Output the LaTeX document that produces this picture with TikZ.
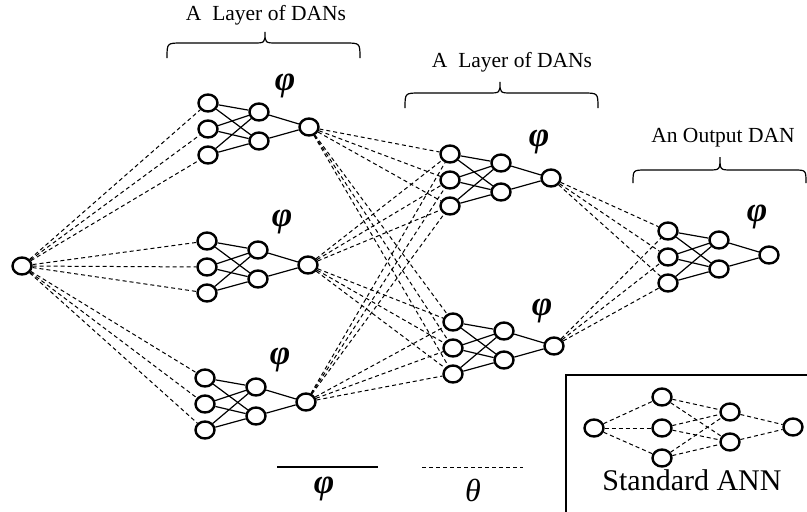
\documentclass[tikz,border=0pt]{standalone}
\usepackage{fontspec}
\setmainfont{Liberation Serif}
\usetikzlibrary{shapes.geometric}
\tikzset{
  neu/.style={ellipse, draw, line width=2.4pt, minimum width=19pt, minimum height=17pt, inner sep=0pt},
  syn/.style={line width=1.2pt},
  wt/.style={line width=1pt, dash pattern=on 4pt off 3pt},
  brc/.style={line width=1.2pt},
  lbl/.style={font=\fontsize{21.5}{24}\selectfont, inner sep=0pt, anchor=base},
  phil/.style={font=\fontsize{35}{38}\selectfont\bfseries\itshape, inner sep=0pt},
  thl/.style={font=\fontsize{32}{34}\selectfont\itshape, inner sep=0pt},
  bigl/.style={font=\fontsize{30}{32}\selectfont, inner sep=0pt, anchor=base},
}
\newcommand{\dannet}[3]{%
  \begin{scope}[shift={(#2,#3)}]
    \node[neu] (#1i1) at (0,-26) {};
    \node[neu] (#1i2) at (0,0) {};
    \node[neu] (#1i3) at (0,26) {};
    \node[neu] (#1h1) at (51,-17) {};
    \node[neu] (#1h2) at (51,12) {};
    \node[neu] (#1o) at (101,-2) {};
  \end{scope}
  \foreach \aa in {1,2,3}{\foreach \bb in {1,2}{\draw[syn] (#1i\aa) -- (#1h\bb);}}
  \draw[syn] (#1h1) -- (#1o);
  \draw[syn] (#1h2) -- (#1o);
}
\begin{document}
\begin{tikzpicture}[x=1pt,y=-1pt]
\useasboundingbox (0,0) rectangle (807,512);
% DANs
\dannet{a}{208}{129}
\dannet{b}{207}{267}
\dannet{c}{205}{404}
\dannet{d}{450}{180}
\dannet{e}{453}{348}
\dannet{f}{668}{257}
\node[neu] (in) at (22,266) {};
% phi labels
\node[phil] (pa) at (285,86) {φ};
\node[phil] (pb) at (282,222) {φ};
\node[phil] (pc) at (280,360) {φ};
\node[phil] (pd) at (539,142) {φ};
\node[phil] (pe) at (542,311) {φ};
\node[phil] (pf) at (757,217) {φ};
% dashed weights
\foreach \src in {a,b,c}{\foreach \kk in {1,2,3}{\draw[wt] (in) -- (\src i\kk);}}
\foreach \src in {a,b,c}{\foreach \dst in {d,e}{\foreach \kk in {1,2,3}{\draw[wt] (\src o) -- (\dst i\kk);}}}
\foreach \src in {d,e}{\foreach \kk in {1,2,3}{\draw[wt] (\src o) -- (fi\kk);}}
% braces
\draw[brc] (167,58) .. controls (167,43) .. (182,43) -- (253,43) .. controls (265,43) .. (265,32)
  .. controls (265,43) .. (277,43) -- (345,43) .. controls (360,43) .. (360,58);
\draw[brc] (405,108) .. controls (405,93) .. (420,93) -- (488,93) .. controls (500,93) .. (500,82)
  .. controls (500,93) .. (512,93) -- (583,93) .. controls (598,93) .. (598,108);
\draw[brc] (633,183) .. controls (633,170) .. (646,170) -- (708,170) .. controls (720,170) .. (720,157)
  .. controls (720,170) .. (732,170) -- (794,170) .. controls (806,170) .. (806,183);
\node[lbl] (l1) at (266,20) {A~~Layer of DANs};
\node[lbl] (l2) at (512,67) {A~~Layer of DANs};
\node[lbl] (l3) at (723,142) {An Output DAN};
% legend
\coordinate (ls1) at (277,467);
\coordinate (ls2) at (378,467);
\coordinate (ld1) at (422,467);
\coordinate (ld2) at (523,467);
\draw[syn] (ls1) -- (ls2);
\draw[wt] (ld1) -- (ld2);
\node[phil] (lphi) at (324,489) {φ};
\node[thl] (lth) at (473,490) {θ};
% standard ANN box
\draw[line width=1.2pt] (566,375) rectangle (812,516);
\node[neu] (s0) at (594,428) {};
\node[neu] (s1) at (662,397) {};
\node[neu] (s2) at (662,428) {};
\node[neu] (s3) at (662,458) {};
\node[neu] (t1) at (730,412) {};
\node[neu] (t2) at (730,442) {};
\node[neu] (so) at (793,427) {};
\foreach \kk in {1,2,3}{\draw[wt] (s0) -- (s\kk);}
\foreach \kk in {1,2,3}{\foreach \jj in {1,2}{\draw[wt] (s\kk) -- (t\jj);}}
\draw[wt] (t1) -- (so);
\draw[wt] (t2) -- (so);
\node[bigl] (sl) at (692,490) {Standard ANN};
\end{tikzpicture}
\end{document}
